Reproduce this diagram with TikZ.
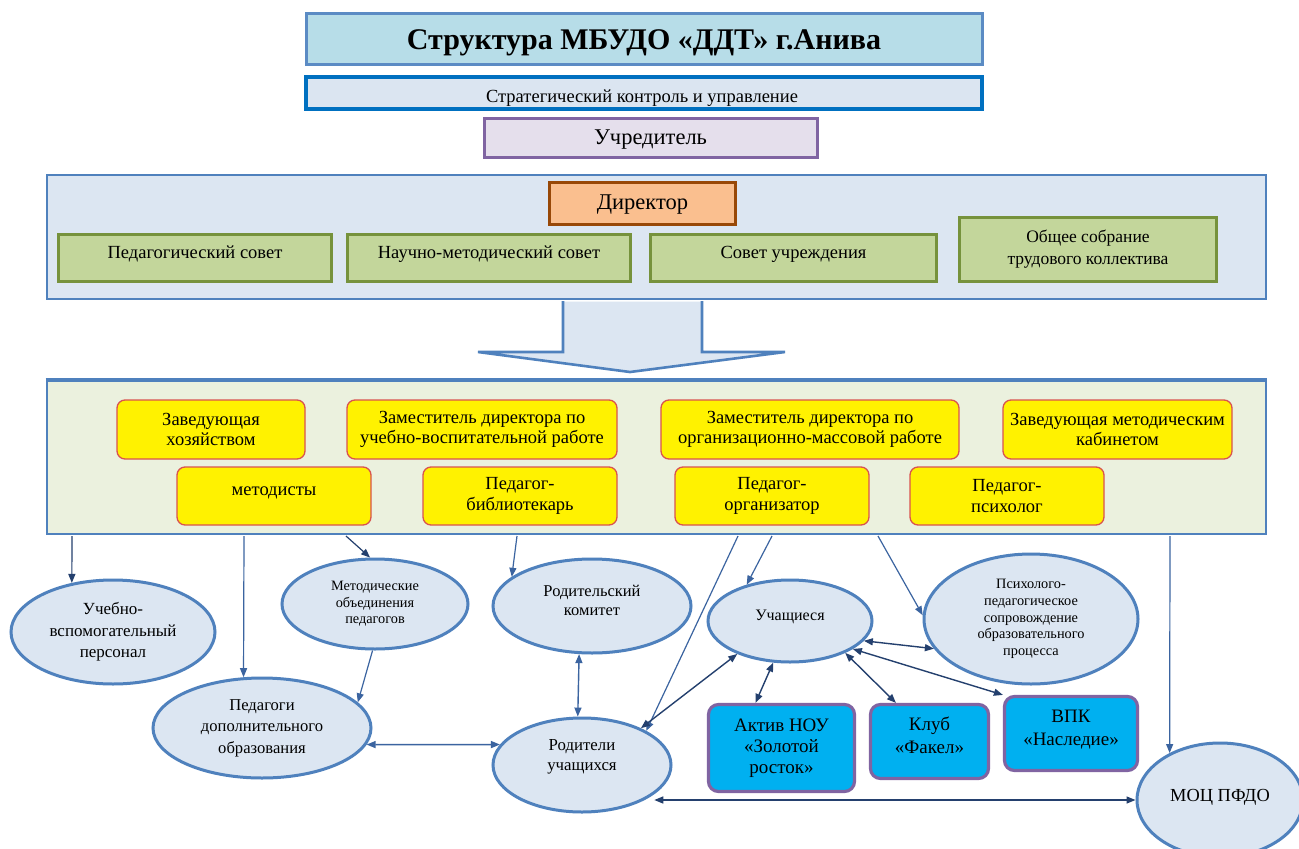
\documentclass[tikz,border=0pt]{standalone}
\usepackage{fontspec}
\setmainfont{Liberation Serif}
\usetikzlibrary{arrows.meta,shapes.geometric,calc}
\definecolor{titlef}{HTML}{B7DDE8}
\definecolor{titleb}{HTML}{5B8BC4}
\definecolor{stratf}{HTML}{DBE5F1}
\definecolor{stratb}{HTML}{0070C0}
\definecolor{uchf}{HTML}{E5DFEC}
\definecolor{uchb}{HTML}{8064A2}
\definecolor{contf}{HTML}{DCE6F2}
\definecolor{contb}{HTML}{4F81BD}
\definecolor{lowf}{HTML}{EBF1DE}
\definecolor{dirf}{HTML}{FABF8F}
\definecolor{dirb}{HTML}{984807}
\definecolor{grnf}{HTML}{C3D69B}
\definecolor{grnb}{HTML}{76923C}
\definecolor{yelb}{HTML}{D9534F}
\definecolor{bluef}{HTML}{00B0F0}
\definecolor{arrc}{HTML}{3B64A0}
\definecolor{arrd}{HTML}{24406E}
\tikzset{
  tbox/.style={draw=titleb, line width=3pt, fill=titlef, inner sep=0pt},
  sbox/.style={draw=stratb, line width=3.2pt, fill=stratf, inner sep=0pt},
  ubox/.style={draw=uchb, line width=3pt, fill=uchf, inner sep=0pt},
  cbox/.style={draw=contb, line width=2.6pt, inner sep=0pt},
  dbox/.style={draw=dirb, line width=3.6pt, fill=dirf, inner sep=0pt},
  gbox/.style={draw=grnb, line width=3.2pt, fill=grnf, inner sep=0pt, align=center, font=\fontsize{18.5}{22}\selectfont},
  ybox/.style={draw=yelb, line width=1.3pt, fill=yellow, rounded corners=8pt, inner sep=0pt, align=center, font=\fontsize{18.5}{20.5}\selectfont},
  ell/.style={ellipse, draw=contb, line width=3pt, fill=contf, inner sep=0pt, align=center},
  bbox/.style={draw=uchb, line width=3.2pt, fill=bluef, rounded corners=10pt, inner sep=0pt, align=center, font=\fontsize{19}{21}\selectfont},
  conn/.style={draw=arrc, line width=1.2pt, -{Triangle[length=9pt,width=7pt]}},
  dconn/.style={draw=arrd, line width=1.4pt, {Triangle[length=9pt,width=7pt]}-{Triangle[length=9pt,width=7pt]}}
}
\begin{document}
\begin{tikzpicture}[x=1pt,y=-1pt]
\useasboundingbox (0,0) rectangle (1299,849);
\clip (0,0) rectangle (1299,849);
\fill[white] (0,0) rectangle (1299,849);
% top
\node[tbox, minimum width=676pt, minimum height=51pt, text height=25pt, text depth=3pt] (title) at (644,38.5) {\fontsize{30}{34}\selectfont\bfseries Структура МБУДО «ДДТ» г.Анива};
\node[sbox, minimum width=676pt, minimum height=32pt] (strat) at (644,93) {};
\node[anchor=base, font=\fontsize{18.5}{20}\selectfont, inner sep=0pt] (stratt) at (642,102) {Стратегический контроль и управление};
\node[ubox, minimum width=333pt, minimum height=39pt, font=\fontsize{22.5}{26}\selectfont, text depth=1pt] (uchr) at (650.5,137.5) {Учредитель};
% director container
\node[cbox, fill=contf, minimum width=1219pt, minimum height=124pt] (dcont) at (656.5,237) {};
\node[dbox, minimum width=186pt, minimum height=42pt, font=\fontsize{22.5}{26}\selectfont, text depth=2pt] (dir) at (642.5,203.5) {Директор};
\node[gbox, minimum width=273pt, minimum height=47pt, text depth=11pt] (g1) at (195,258) {Педагогический совет};
\node[gbox, minimum width=283pt, minimum height=47pt, text depth=11pt] (g2) at (489,258) {Научно-методический совет};
\node[gbox, minimum width=286pt, minimum height=47pt, text depth=11pt] (g3) at (793.5,258) {Совет учреждения};
\node[gbox, minimum width=257pt, minimum height=64pt, font=\fontsize{17.5}{22}\selectfont] (g4) at (1088,249.5) {Общее собрание\\трудового коллектива};
% lower container
\node[cbox, fill=lowf, minimum width=1219pt, minimum height=153pt] (lcont) at (656.5,457.5) {};
% big arrow
\fill[contf] (563,301.6) -- (563,352) -- (478,352) -- (630,372) -- (785,352) -- (702,352) -- (702,301.6) -- cycle;
\draw[contb, line width=2.6pt, line join=miter] (563,301) -- (563,352) -- (478,352) -- (630,372) -- (785,352) -- (702,352) -- (702,301);
\draw[contb, line width=2.6pt] (lcont.north west) -- (lcont.north east);
% yellow boxes
\node[ybox, minimum width=188pt, minimum height=59pt] (y1) at (211,429.5) {Заведующая\\хозяйством};
\node[ybox, minimum width=270pt, minimum height=59pt] (y2) at (482,429.5) {Заместитель директора по\\учебно-воспитательной работе};
\node[ybox, minimum width=298pt, minimum height=59pt] (y3) at (810,429.5) {Заместитель директора по\\организационно-массовой работе};
\node[ybox, minimum width=229pt, minimum height=59pt] (y4) at (1117.5,429.5) {Заведующая методическим\\кабинетом};
\node[ybox, minimum width=194pt, minimum height=58pt, text depth=9pt] (y5) at (274,496) {методисты};
\node[ybox, minimum width=194pt, minimum height=58pt] (y6) at (520,496) {Педагог-\\библиотекарь};
\node[ybox, minimum width=194pt, minimum height=58pt] (y7) at (772,496) {Педагог-\\организатор};
\node[ybox, minimum width=194pt, minimum height=58pt] (y8) at (1007,496) {Педагог-\\психолог};
% ellipses
\node[ell, minimum width=204pt, minimum height=104pt, font=\fontsize{17}{21.5}\selectfont] (uv) at (113,632) {Учебно-\\вспомогательный\\персонал};
\node[ell, minimum width=186pt, minimum height=90pt, font=\fontsize{14.3}{16.5}\selectfont] (mo) at (375,604) {Методические\\объединения\\педагогов};
\node[ell, minimum width=218pt, minimum height=100pt, font=\fontsize{16.6}{21.5}\selectfont] (pdo) at (262,728) {Педагоги\\дополнительного\\образования};
\node[ell, minimum width=198pt, minimum height=94pt, font=\fontsize{16.5}{19.5}\selectfont, text depth=11pt] (rk) at (592,606) {Родительский\\комитет};
\node[ell, minimum width=178pt, minimum height=94pt, font=\fontsize{16.8}{20}\selectfont, text depth=20pt] (ru) at (582,765) {Родители\\учащихся};
\node[ell, minimum width=164pt, minimum height=82pt, font=\fontsize{16}{20}\selectfont, text depth=12pt] (uch) at (790,621) {Учащиеся};
\node[ell, minimum width=214pt, minimum height=130pt, font=\fontsize{14.3}{16.7}\selectfont] (pp) at (1031,619) {Психолого-\\педагогическое\\сопровождение\\образовательного\\процесса};
\node[ell, minimum width=166pt, minimum height=114pt, font=\fontsize{18.4}{20}\selectfont, text depth=10pt] (moc) at (1220,800) {МОЦ ПФДО};
% blue boxes
\node[bbox, minimum width=146pt, minimum height=87pt] (nou) at (781.5,748) {Актив НОУ\\«Золотой\\росток»};
\node[bbox, minimum width=118pt, minimum height=74pt, font=\fontsize{19}{23}\selectfont, text depth=12pt] (klub) at (929.5,741.5) {Клуб\\«Факел»};
\node[bbox, minimum width=133pt, minimum height=74pt, font=\fontsize{19}{23}\selectfont, text depth=12pt] (vpk) at (1071,733.5) {ВПК\\«Наследие»};
% start points on container bottom
\coordinate (s1) at (72,536);
\coordinate (s2) at (244,536);
\coordinate (s3) at (346,536);
\coordinate (s4) at (517,536);
\coordinate (s5) at (738,536);
\coordinate (s6) at (772,536);
\coordinate (s7) at (878,536);
\coordinate (s8) at (1170,536);
% connectors
\draw[conn, draw=arrd] (s1) -- (uv.130);
\draw[conn] (s2) -- (pdo.110);
\draw[conn, draw=arrd] (s3) -- (mo.96);
\draw[conn] (s4) -- (rk.160);
\draw[conn] (s5) -- (ru.28);
\draw[conn] (s6) -- (uch.140);
\draw[conn] (s7) -- (pp.178);
\draw[conn] (s8) -- (moc.137);
\draw[conn] (mo.-93) -- (pdo.15);
\draw[dconn, draw=arrc] (pdo.-9) -- (ru.166);
\draw[dconn, draw=arrc] (rk.-105) -- (ru.95);
\draw[dconn] (ru.32) -- (uch.212);
\draw[dconn] (uch.-112) -- (nou.120);
\draw[dconn] (uch.-30) -- (klub.131);
\draw[dconn] (uch.-24) -- (vpk.north west);
\draw[dconn] (uch.-15) -- (pp.197);
\draw[dconn] (ru.-22 |- moc.west) -- (moc.west);
\end{tikzpicture}
\end{document}
